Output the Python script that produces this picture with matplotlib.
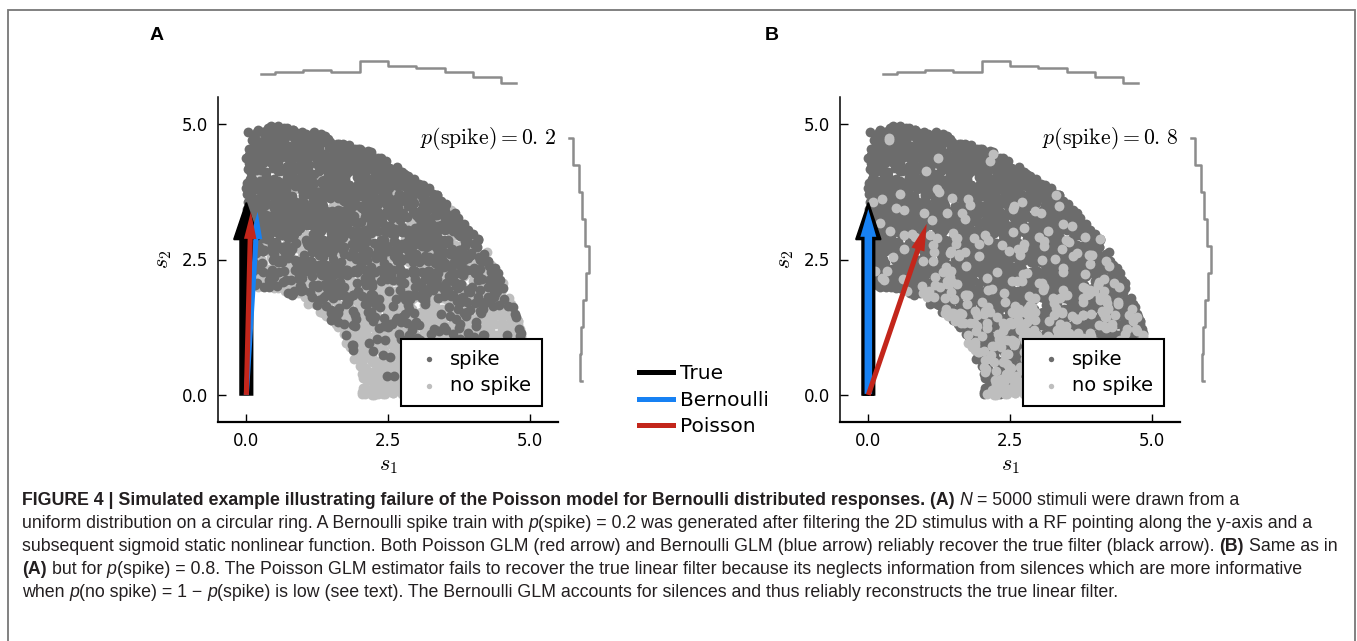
import numpy as np
import matplotlib
matplotlib.use('Agg')
import matplotlib.pyplot as plt
from matplotlib.lines import Line2D
from matplotlib.patches import FancyArrow, Rectangle

plt.rcParams['mathtext.fontset'] = 'cm'
plt.rcParams['font.family'] = ['DejaVu Sans']

# ---------------- data ----------------
PANELS = ['A', 'B']
P_SPIKE_TEXT = ['0.\\,2', '0.\\,8']

# stimuli: points drawn on a quarter ring (as in the caption); spike / no spike
# labels come from a sigmoid of s2 (the true filter points along the y-axis)
N_SHOWN = 3500
RING_RADII = (2.0, 5.0)
RING_ANGLES = (0.0, 90.0)
SIGMOID_GAIN = [1.5, 1.05]
SIGMOID_SHIFT = [2.5, 0.15]

# marginal histograms (same stimuli in both panels)
BIN_CENTERS = [0.25, 0.75, 1.25, 1.75, 2.25, 2.75, 3.25, 3.75, 4.25, 4.75]
S1_COUNTS = [520, 528, 540, 528, 585, 562, 548, 528, 503, 473]
S2_COUNTS = [540, 515, 552, 536, 583, 565, 543, 532, 512, 473]

# estimated filters (arrow tips)
TRUE_FILTER = (0.0, 3.55)
BERNOULLI_FILTER = [(0.20, 3.38), (0.0, 3.50)]
POISSON_FILTER = [(0.08, 3.38), (1.03, 3.16)]

TICKS = [0.0, 2.5, 5.0]
TICK_LABELS = ['0.0', '2.5', '5.0']

FILTER_NAMES = ['True', 'Bernoulli', 'Poisson']

CAPTION = [
    [("FIGURE 4 | Simulated example illustrating failure of the Poisson model for Bernoulli distributed responses. (A) ", 'bold', 'normal'),
     ("N", 'normal', 'italic'),
     (" = 5000 stimuli were drawn from a", 'normal', 'normal')],
    [("uniform distribution on a circular ring. A Bernoulli spike train with ", 'normal', 'normal'),
     ("p", 'normal', 'italic'),
     ("(spike) = 0.2 was generated after filtering the 2D stimulus with a RF pointing along the y-axis and a", 'normal', 'normal')],
    [("subsequent sigmoid static nonlinear function. Both Poisson GLM (red arrow) and Bernoulli GLM (blue arrow) reliably recover the true filter (black arrow). ", 'normal', 'normal'),
     ("(B)", 'bold', 'normal'),
     (" Same as in", 'normal', 'normal')],
    [("(A)", 'bold', 'normal'),
     (" but for ", 'normal', 'normal'),
     ("p", 'normal', 'italic'),
     ("(spike) = 0.8. The Poisson GLM estimator fails to recover the true linear filter because its neglects information from silences which are more informative", 'normal', 'normal')],
    [("when ", 'normal', 'normal'),
     ("p", 'normal', 'italic'),
     ("(no spike) = 1 \u2212 ", 'normal', 'normal'),
     ("p", 'normal', 'italic'),
     ("(spike) is low (see text). The Bernoulli GLM accounts for silences and thus reliably reconstructs the true linear filter.", 'normal', 'normal')],
]

# ---------------- style / layout ----------------
W, H = 1357, 641
DARK = '#6c6c6c'
LIGHT = '#bebebe'
BLUE = '#1781f3'
RED = '#c3261b'
HIST_C = '#8c8c8c'

MAIN_LEFT = [218, 840]
MAIN_TOP, MAIN_BOTTOM, MAIN_W = 97, 422, 340

ARROW_TRUE = dict(width=0.22, head_width=0.44, head_length=0.68, fc='k', ec='k', lw=1.2)
ARROW_BERN = [dict(width=0.09, head_width=0.22, head_length=0.5, fc=BLUE, ec='none', lw=0),
              dict(width=0.17, head_width=0.33, head_length=0.6, fc=BLUE, ec='k', lw=1.5)]
ARROW_POIS = [dict(width=0.09, head_width=0.22, head_length=0.5, fc=RED, ec='none', lw=0),
              dict(width=0.09, head_width=0.24, head_length=0.5, fc=RED, ec='none', lw=0)]

fig = plt.figure(figsize=(W / 100, H / 100), dpi=100)


def px_axes(left, top, right, bottom):
    return fig.add_axes([left / W, 1 - bottom / H, (right - left) / W, (bottom - top) / H])


# simulated stimuli
rng = np.random.default_rng(11)
r = np.sqrt(rng.uniform(RING_RADII[0] ** 2, RING_RADII[1] ** 2, N_SHOWN))
th = np.deg2rad(rng.uniform(RING_ANGLES[0], RING_ANGLES[1], N_SHOWN))
s1 = r * np.cos(th)
s2 = r * np.sin(th)

for i, name in enumerate(PANELS):
    left = MAIN_LEFT[i]
    ax = px_axes(left, MAIN_TOP, left + MAIN_W, MAIN_BOTTOM)

    p = 1.0 / (1.0 + np.exp(-SIGMOID_GAIN[i] * (s2 - SIGMOID_SHIFT[i])))
    spike = rng.uniform(size=N_SHOWN) < p

    kw = dict(s=50, linewidths=0, zorder=1)
    if i == 0:
        h_no = ax.scatter(s1[~spike], s2[~spike], c=LIGHT, **kw)
        h_sp = ax.scatter(s1[spike], s2[spike], c=DARK, **kw)
    else:
        h_sp = ax.scatter(s1[spike], s2[spike], c=DARK, **kw)
        h_no = ax.scatter(s1[~spike], s2[~spike], c=LIGHT, **kw)

    ax.add_patch(FancyArrow(0, 0, TRUE_FILTER[0], TRUE_FILTER[1],
                            length_includes_head=True, zorder=3, **ARROW_TRUE))
    ax.add_patch(FancyArrow(0, 0, BERNOULLI_FILTER[i][0], BERNOULLI_FILTER[i][1],
                            length_includes_head=True, zorder=4, **ARROW_BERN[i]))
    ax.add_patch(FancyArrow(0, 0, POISSON_FILTER[i][0], POISSON_FILTER[i][1],
                            length_includes_head=True, zorder=5, **ARROW_POIS[i]))

    ax.set_xlim(-0.5, 5.5)
    ax.set_ylim(-0.5, 5.5)
    ax.set_xticks(TICKS)
    ax.set_xticklabels(TICK_LABELS)
    ax.set_yticks(TICKS)
    ax.set_yticklabels(TICK_LABELS)
    for sp in ['top', 'right']:
        ax.spines[sp].set_visible(False)
    ax.spines['left'].set_linewidth(1.1)
    ax.spines['bottom'].set_linewidth(1.6)
    ax.tick_params(direction='in', length=6, width=1, labelsize=12, pad=7)
    ax.set_xlabel('$s_1$', fontsize=16)
    ax.set_ylabel('$s_2$', fontsize=16)
    ax.xaxis.set_label_coords(0.5, -0.105)
    ax.yaxis.set_label_coords(-0.13, 0.5)

    ax.text(0.996, 0.871, r'$p(\mathrm{spike})=' + P_SPIKE_TEXT[i] + '$',
            transform=ax.transAxes, ha='right', va='center', fontsize=15.7)

    leg = ax.legend([h_sp, h_no], ['spike', 'no spike'], loc='lower right',
                    bbox_to_anchor=(0.953, 0.049), borderaxespad=0, fontsize=14,
                    frameon=True, fancybox=False, edgecolor='k', framealpha=1,
                    handlelength=1.8, handletextpad=0.2, borderpad=0.55,
                    labelspacing=0.4, markerscale=0.55, scatterpoints=1)
    leg.get_frame().set_linewidth(1.5)
    leg.set_zorder(10)

    # marginals
    axt = px_axes(left, 50, left + MAIN_W, 95)
    axt.plot(BIN_CENTERS, S1_COUNTS, drawstyle='steps-mid', color=HIST_C, lw=1.8)
    axt.set_xlim(-0.5, 5.5)
    axt.set_ylim(415, 640)
    axt.axis('off')

    axr = px_axes(left + 342, MAIN_TOP, left + 382, MAIN_BOTTOM)
    axr.plot(S2_COUNTS, BIN_CENTERS, drawstyle='steps-mid', color=HIST_C, lw=1.8)
    axr.set_xlim(428, 628)
    axr.set_ylim(-0.5, 5.5)
    axr.axis('off')

    fig.text((157 if i == 0 else 772) / W, 1 - 35 / H, name, fontsize=14,
             fontweight='bold', family='Liberation Sans', ha='center', va='center')

# filter legend in the middle
handles = [Line2D([], [], color=c, lw=3.6) for c in ['k', BLUE, RED]]
fig.legend(handles, FILTER_NAMES, loc='upper left',
           bbox_to_anchor=(639 / W, 1 - 364 / H), borderpad=0, borderaxespad=0,
           frameon=False, fontsize=14.5, handlelength=1.7, handletextpad=0.35,
           labelspacing=0.38)

# frame around the figure + caption
fig.patches.append(Rectangle((8 / W, -0.1), (1355 - 8) / W, 1.1 - 10 / H,
                             transform=fig.transFigure, fill=False,
                             ec='#777777', lw=1.3, clip_on=False))

renderer = fig.canvas.get_renderer()
_space = {}


def space_w(size, weight, style):
    key = (size, weight, style)
    if key not in _space:
        a = fig.text(0, 0, 'a a', fontsize=size, fontweight=weight, fontstyle=style,
                     family='Liberation Sans')
        b = fig.text(0, 0, 'aa', fontsize=size, fontweight=weight, fontstyle=style,
                     family='Liberation Sans')
        _space[key] = a.get_window_extent(renderer).width - b.get_window_extent(renderer).width
        a.remove()
        b.remove()
    return _space[key]


def place_line(segs, x0, y, size, keep=True):
    x = x0
    for text, weight, style in segs:
        core = text.strip(' ')
        lead = len(text) - len(text.lstrip(' '))
        trail = len(text) - len(text.rstrip(' '))
        sp = space_w(size, weight, style)
        x += lead * sp
        t = fig.text(x / W, 1 - y / H, core, fontsize=size, fontweight=weight,
                     fontstyle=style, family='Liberation Sans',
                     color='#231f20', ha='left', va='baseline')
        x += t.get_window_extent(renderer).width + trail * sp
        if not keep:
            t.remove()
    return x


base = 10.0
w2 = place_line(CAPTION[1], 0, 0, base, keep=False)
cap_size = base * (1320 - 22) / w2
for k, segs in enumerate(CAPTION):
    place_line(segs, 22, 505 + 23 * k, cap_size)

fig.savefig('out.png', dpi=100)
